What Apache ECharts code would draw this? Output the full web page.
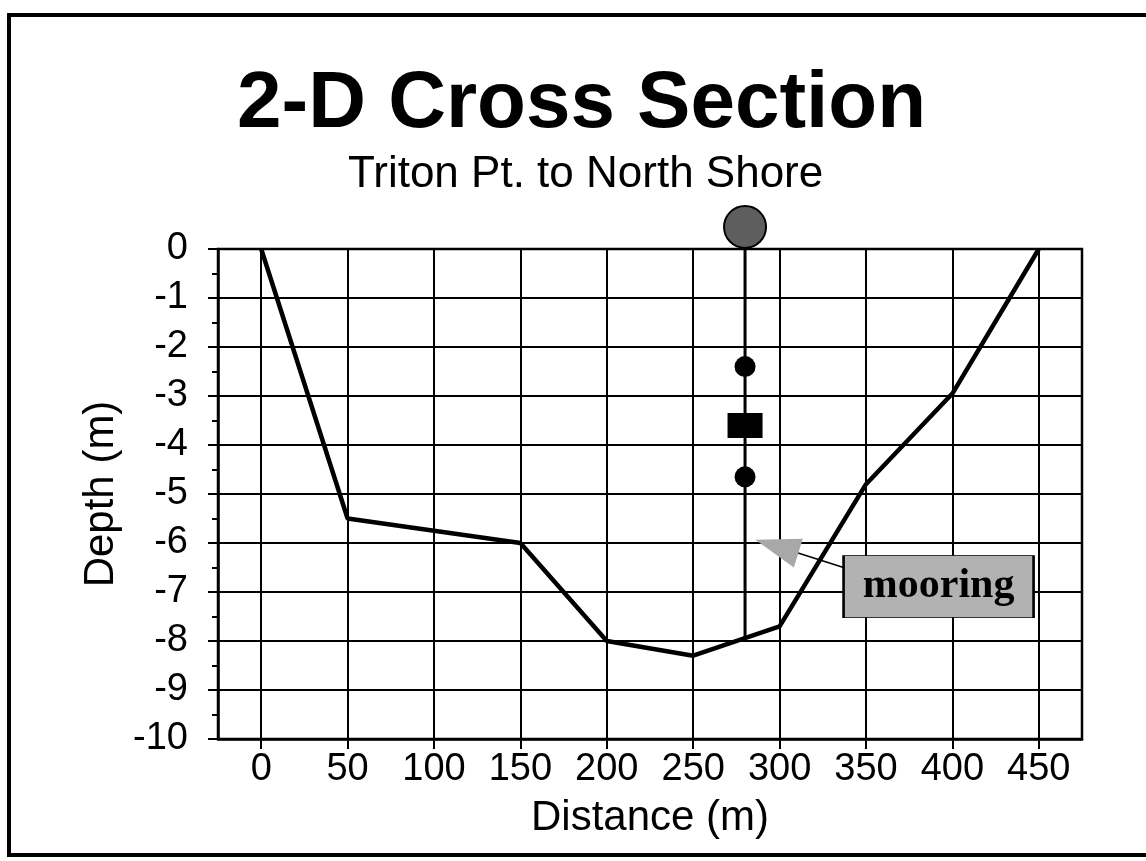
<!DOCTYPE html>
<html>
<head>
<meta charset="utf-8">
<script src="https://cdn.jsdelivr.net/npm/echarts@6/dist/echarts.min.js"></script>
<style>
  html, body { margin: 0; padding: 0; background: #fff; }
  #chart { width: 1146px; height: 861px; }
</style>
</head>
<body>
<div id="chart"></div>
<script>
// bottom profile
var distance = [0, 50, 100, 150, 200, 250, 300, 350, 400, 450];
var depth = [0, -5.5, -5.75, -6.0, -8.0, -8.3, -7.7, -4.8, -2.95, 0];

var xTicks = [0, 50, 100, 150, 200, 250, 300, 350, 400, 450];

// mooring
var mooringX = 280;
var mooringTop = 0.45;
var mooringBottom = -7.95;
var buoyDepth = 0.45;
var ballDepths = [-2.4, -4.65];
var boxDepths = [-3.6];

// annotation (arrow head is centred on arrowHead)
var noteLabel = 'mooring';
var notePos = [392, -6.89];
var arrowFrom = [337, -6.5];
var arrowNeck = [307.5, -6.17];
var arrowHead = [298.4, -6.07];

var font = 'Liberation Sans, Arial, sans-serif';

var chart = echarts.init(document.getElementById('chart'));

var profile = distance.map(function (d, i) {
  return [d, depth[i]];
});

var option = {
  backgroundColor: '#fff',
  animation: false,
  graphic: [{
    type: 'rect',
    shape: { x: 9, y: 15, width: 1160, height: 840 },
    style: { fill: 'none', stroke: '#000', lineWidth: 4 },
    silent: true
  }],
  title: [{
    text: '2-D Cross Section',
    left: 237,
    top: 65,
    padding: 0,
    textStyle: { fontFamily: font, fontWeight: 'bold', fontSize: 80, color: '#000' }
  }, {
    text: 'Triton Pt. to North Shore',
    left: 348,
    top: 153,
    padding: 0,
    textStyle: { fontFamily: font, fontWeight: 'normal', fontSize: 44, color: '#000' }
  }],
  grid: {
    left: 218,
    right: 64,
    top: 249,
    bottom: 122,
    show: true,
    borderColor: '#000',
    borderWidth: 2.5,
    backgroundColor: 'transparent'
  },
  xAxis: {
    type: 'value',
    min: -25,
    max: 475,
    name: 'Distance (m)',
    nameLocation: 'middle',
    nameGap: 58,
    nameTextStyle: { fontFamily: font, fontSize: 42, color: '#000' },
    axisLine: { show: true, onZero: false, lineStyle: { color: '#000', width: 2.5 } },
    axisTick: { show: true, length: 10, customValues: xTicks, lineStyle: { color: '#000', width: 2 } },
    axisLabel: { customValues: xTicks, margin: 12, fontFamily: font, fontSize: 38, color: '#000' },
    splitLine: { show: false }
  },
  yAxis: {
    type: 'value',
    min: -10,
    max: 0,
    interval: 1,
    name: 'Depth (m)',
    nameLocation: 'middle',
    nameGap: 86,
    nameRotate: 90,
    nameTextStyle: { fontFamily: font, fontSize: 42, color: '#000' },
    axisLine: { show: true, onZero: false, lineStyle: { color: '#000', width: 2.5 } },
    axisTick: { show: true, length: 10, lineStyle: { color: '#000', width: 2 } },
    minorTick: { show: true, splitNumber: 2, length: 6, lineStyle: { color: '#000', width: 2 } },
    axisLabel: { margin: 30, fontFamily: font, fontSize: 38, color: '#000' },
    splitLine: { show: true, lineStyle: { color: '#000', width: 2 } }
  },
  series: [
    {
      name: 'grid',
      type: 'line',
      data: [],
      silent: true,
      markLine: {
        silent: true,
        symbol: 'none',
        label: { show: false },
        lineStyle: { color: '#000', width: 2, type: 'solid' },
        data: xTicks.map(function (v) { return { xAxis: v }; })
      }
    },
    {
      name: 'bottom',
      type: 'line',
      data: profile,
      symbol: 'none',
      lineStyle: { color: '#000', width: 4.5 },
      z: 3
    },
    {
      name: 'mooring line',
      type: 'line',
      clip: false,
      data: [[mooringX, mooringTop], [mooringX, mooringBottom]],
      symbol: 'none',
      lineStyle: { color: '#000', width: 3 },
      z: 4
    },
    {
      name: 'buoy',
      type: 'scatter',
      clip: false,
      data: [[mooringX, buoyDepth]],
      symbol: 'circle',
      symbolSize: 42,
      itemStyle: { color: '#5e5e5e', borderColor: '#000', borderWidth: 2, opacity: 1 },
      z: 5
    },
    {
      name: 'instruments',
      type: 'scatter',
      clip: false,
      data: ballDepths.map(function (d) { return [mooringX, d]; }),
      symbol: 'circle',
      symbolSize: 21,
      itemStyle: { color: '#000', opacity: 1 },
      z: 5
    },
    {
      name: 'sensor',
      type: 'scatter',
      clip: false,
      data: boxDepths.map(function (d) { return [mooringX, d]; }),
      symbol: 'rect',
      symbolSize: [35, 25],
      itemStyle: { color: '#000', opacity: 1 },
      z: 5
    },
    {
      name: 'note',
      type: 'line',
      data: [],
      markLine: {
        silent: true,
        symbol: 'none',
        label: { show: false },
        lineStyle: { color: '#000', width: 1.5, type: 'solid' },
        data: [[{ coord: arrowFrom }, { coord: arrowNeck }]]
      },
      z: 6
    },
    {
      name: 'arrowhead',
      type: 'line',
      data: [],
      markLine: {
        silent: true,
        symbol: ['none', 'triangle'],
        symbolSize: 40,
        label: { show: false },
        lineStyle: { color: '#a8a8a8', width: 2, type: 'solid' },
        data: [[
          { coord: arrowNeck, symbol: 'none' },
          { coord: arrowHead, symbol: 'triangle', symbolSize: [30, 45] }
        ]]
      },
      z: 6
    },
    {
      name: 'label',
      type: 'line',
      data: [],
      markPoint: {
        silent: true,
        symbol: 'rect',
        symbolSize: [190, 62],
        itemStyle: { color: '#b2b2b2', borderColor: '#000', borderWidth: 1.5 },
        label: {
          show: true,
          position: 'inside',
          formatter: noteLabel,
          fontFamily: 'Liberation Serif, Times New Roman, serif',
          fontWeight: 'bold',
          fontSize: 42,
          color: '#000'
        },
        data: [{ coord: notePos }]
      },
      z: 7
    }
  ]
};

chart.setOption(option);
</script>
</body>
</html>
